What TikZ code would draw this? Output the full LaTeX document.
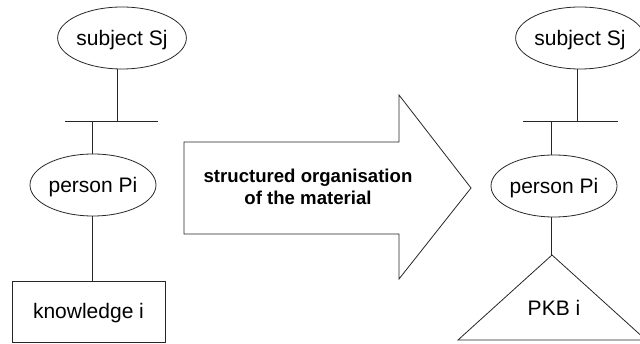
\documentclass[tikz,border=0pt]{standalone}
\usepackage{fontspec}
\setmainfont{Liberation Sans}
\usetikzlibrary{shapes.geometric,positioning}
\tikzstyle{entity}=[
	ellipse,
	draw=black!85,
	line width=0.8pt,
	minimum width=126pt,
	minimum height=62pt,
	inner sep=0pt,
	font=\fontsize{21}{25}\selectfont,
	text height=16pt,
	text depth=0pt
]
\tikzstyle{holder}=[
	rectangle,
	draw=black!85,
	line width=0.8pt,
	minimum width=153pt,
	minimum height=61pt,
	inner sep=0pt,
	font=\fontsize{21}{25}\selectfont,
	text height=14pt,
	text depth=0pt
]
\tikzstyle{label}=[
	inner sep=0pt,
	font=\fontsize{21}{25}\selectfont,
	text height=14pt,
	text depth=0pt
]
\tikzstyle{link}=[
	draw=black!85,
	line width=0.8pt
]
\begin{document}
\begin{tikzpicture}[x=1pt,y=-1pt]
\useasboundingbox (0,0) rectangle (640,344);
\clip (0,0) rectangle (640,344);
% before
\node [entity] (subjL) at (122,38) {subject Sj};
\node [entity] (personL) at (93,185) {person Pi};
\node [holder] (knowL) at (88.5,311.5) {knowledge i};
\coordinate (barL1) at (65,121);
\coordinate (barL2) at (158,121);
\coordinate (joinL) at (117,121);
\coordinate (forkL) at (92,121);
\draw [link] (barL1) -- (barL2);
\draw [link] (joinL) -- (joinL |- subjL.south);
\draw [link] (forkL) -- (forkL |- personL.north);
\draw [link] (forkL |- personL.south) -- (forkL |- knowL.north);
% the big arrow
\coordinate (tail1) at (184,142);
\coordinate (tip) at (471,188);
\draw [link] (tail1) -- (399,142) -- (399,95) -- (tip) -- (399,279)
	-- (399,234) -- (184,234) -- cycle;
\node [align=center, inner sep=0pt, font=\fontsize{18.6}{21.6}\selectfont\bfseries]
	(organise) at (308,187) {structured organisation\\of the material};
% after
\node [entity] (subjR) at (580,38) {subject Sj};
\node [entity] (personR) at (554,186) {person Pi};
\coordinate (barR1) at (523,121);
\coordinate (barR2) at (618,121);
\coordinate (joinR) at (577,121);
\coordinate (forkR) at (551,121);
\coordinate (pkbtop) at (552,255);
\coordinate (pkbleft) at (458,340);
\coordinate (pkbright) at (646,340);
\draw [link] (barR1) -- (barR2);
\draw [link] (joinR) -- (joinR |- subjR.south);
\draw [link] (forkR) -- (forkR |- personR.north);
\draw [link] (forkR |- personR.south) -- (forkR |- pkbtop);
\draw [link] (pkbtop) -- (pkbleft) -- (pkbright) -- cycle;
\node [label] (pkb) at (554,309) {PKB i};
\end{tikzpicture}
\end{document}
